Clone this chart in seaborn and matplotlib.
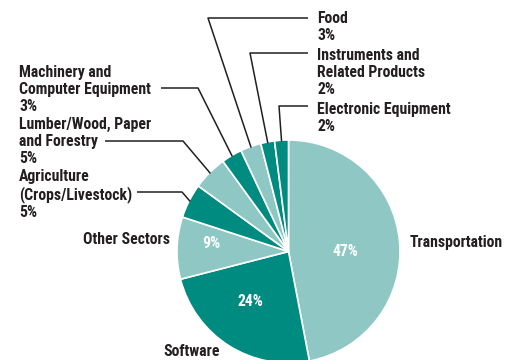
import numpy as np
import matplotlib
matplotlib.use("Agg")
import matplotlib.pyplot as plt
import seaborn as sns
from matplotlib import font_manager

sectors = ["Transportation", "Software", "Other Sectors", "Agriculture\n(Crops/Livestock)",
           "Lumber/Wood, Paper\nand Forestry", "Machinery and\nComputer Equipment",
           "Food", "Instruments and\nRelated Products", "Electronic Equipment"]
shares = [47, 24, 9, 5, 5, 3, 3, 2, 2]
shade = ["light", "dark", "light", "dark", "light", "dark", "light", "dark", "dark"]

sns.set_theme(style="white")
installed = {f.name for f in font_manager.fontManager.ttflist}
candidates = ["Roboto Condensed", "Archivo Narrow", "PT Sans Narrow", "Fira Sans Condensed",
              "IBM Plex Sans Condensed", "Asap Condensed", "Barlow Semi Condensed",
              "Liberation Sans Narrow"]
FAMILY = next((c for c in candidates if c in installed), "DejaVu Sans")
SIZE = 11.3 if FAMILY != "DejaVu Sans" else 8.6
plt.rcParams["font.family"] = [FAMILY, "DejaVu Sans"]

LIGHT = "#8ec7c3"
DARK = "#008b80"
INK = "#231f20"
colors = [LIGHT if s == "light" else DARK for s in shade]

W, H = 517, 360
fig = plt.figure(figsize=(W / 100, H / 100), dpi=100)
ax = fig.add_axes([0, 0, 1, 1])

cx, cy, R = 288.5, H - 251.5, 111.5
wedges, _ = ax.pie(shares, colors=colors, startangle=90, counterclock=False,
                   center=(cx, cy), radius=R, frame=True,
                   wedgeprops=dict(edgecolor="white", linewidth=1.2))
ax.set_xlim(0, W)
ax.set_ylim(0, H)
ax.set_aspect("equal")
ax.axis("off")

font = dict(fontsize=SIZE, fontweight="bold", color=INK)

def edge_point(w, frac=0.99):
    a = np.deg2rad((w.theta1 + w.theta2) / 2)
    return cx + R * frac * np.cos(a), cy + R * frac * np.sin(a)

# Percent labels inside the large wedges
inside = {0: (345, 252), 1: (250, 302), 2: (211, 244)}
for i, (px, py) in inside.items():
    ax.text(px, H - py, f"{shares[i]}%", ha="center", va="center",
            fontsize=SIZE, fontweight="bold", color="white")

ax.text(410, H - 242, sectors[0], ha="left", va="center", **font)
ax.text(170, H - 240, sectors[2], ha="right", va="center", **font)
ax.text(163, H - 352, sectors[1], ha="left", va="center", **font)

# Callout labels with leader lines: (index, text anchor, elbow points)
callouts = [
    (3, (19, 169), [(137, 192), (182, 192)]),
    (4, (19, 117), [(105, 141), (183, 141)]),
    (5, (19, 65), [(161, 88), (198, 88)]),
    (6, (317, 11), [(308, 18), (208, 18)]),
    (7, (317, 48), [(308, 53), (250, 53)]),
    (8, (317, 102), [(308, 106), (279, 106)]),
]
for i, (tx, ty), pts in callouts:
    ax.text(tx, H - ty, f"{sectors[i]}\n{shares[i]}%", ha="left", va="top",
            linespacing=1.15, **font)
    ex, ey = edge_point(wedges[i])
    xs = [p[0] for p in pts] + [ex]
    ys = [H - p[1] for p in pts] + [ey]
    ax.plot(xs, ys, color=INK, linewidth=1.1, solid_capstyle="butt")

fig.savefig("out.png", dpi=100, facecolor="white")
